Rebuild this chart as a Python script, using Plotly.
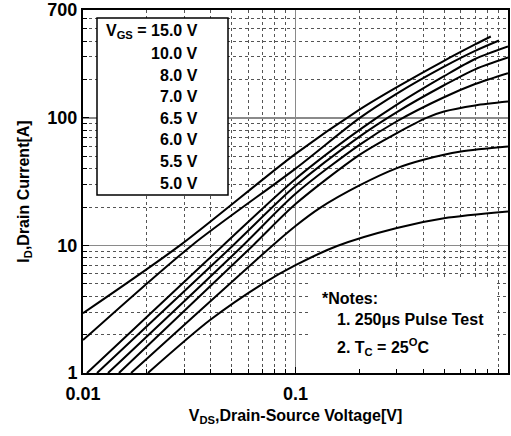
import plotly.graph_objects as go

# ---- data ----
vgs_labels = ["15.0 V", "10.0 V", "8.0 V", "7.0 V", "6.5 V", "6.0 V", "5.5 V", "5.0 V"]

v_15 = [0.01, 0.0286, 0.1, 0.2, 0.3, 0.5, 0.7, 0.83]
i_15 = [2.94, 10, 52.2, 116, 174, 280, 376, 434]

v_10 = [0.01, 0.0325, 0.1, 0.2, 0.3, 0.5, 0.7, 0.907]
i_10 = [1.81, 10, 40, 99.5, 155, 252, 335, 404]

v_8 = [0.01044, 0.0456, 0.1, 0.2, 0.3, 0.5, 0.7, 1.0]
i_8 = [1, 10, 33.2, 80.5, 127, 212, 289, 362]

v_7 = [0.01164, 0.0508, 0.1, 0.2, 0.3, 0.5, 0.7, 1.0]
i_7 = [1, 10, 29.3, 71.3, 111, 180, 240, 297]

v_65 = [0.01311, 0.0566, 0.1, 0.2, 0.3, 0.5, 0.7, 1.0]
i_65 = [1, 10, 25.4, 61.4, 94, 145, 184, 224]

v_6 = [0.01476, 0.0631, 0.1, 0.2, 0.3, 0.413, 0.5, 0.7, 1.0]
i_6 = [1, 10, 21.1, 51.3, 76, 100, 112, 125, 134]

v_55 = [0.01683, 0.078, 0.1, 0.13, 0.2, 0.3, 0.4, 0.6, 1.0]
i_55 = [1, 10, 14.2, 19.6, 29.5, 40.3, 46.9, 54.4, 59.6]

v_5 = [0.0202, 0.0396, 0.07, 0.1, 0.157, 0.3, 0.5, 1.0]
i_5 = [1, 2.6, 5.0, 7.0, 9.9, 13.7, 16.3, 18.4]

x_ticks = [0.01, 0.1, 1]
x_tick_text = ["0.01", "0.1", "1"]
y_ticks = [1, 10, 100, 700]
y_tick_text = ["1", "10", "100", "700"]
x_minor = [k * 0.01 for k in range(2, 10)] + [k * 0.1 for k in range(2, 10)]
y_minor = [k for k in range(2, 10)] + [k * 10 for k in range(2, 10)] + [k * 100 for k in range(2, 7)]

series = [(v_15, i_15), (v_10, i_10), (v_8, i_8), (v_7, i_7),
          (v_65, i_65), (v_6, i_6), (v_55, i_55), (v_5, i_5)]

FONT = "Liberation Sans, Arial, sans-serif"

# plot area in page pixels: x 83..508, y 10..373
L, R, T, B = 83, 3, 10, 63
W, H = 511, 436
PW, PH = W - L - R, H - T - B


def px_x(xp):
    return (xp - L) / PW


def px_y(yp):
    return (H - B - yp) / PH


fig = go.Figure()
for (vx, iy), lab in zip(series, vgs_labels):
    fig.add_trace(go.Scatter(x=vx, y=iy, mode="lines", name=lab,
                             line=dict(color="black", width=2, shape="spline", smoothing=0.8),
                             showlegend=False, hoverinfo="skip"))

axis_common = dict(
    type="log", showline=True, linecolor="black", linewidth=2, mirror=True,
    showgrid=True, gridcolor="#8a8a8a", gridwidth=1.5,
    ticks="inside", ticklen=6, tickcolor="black", tickwidth=1,
    tickfont=dict(family=FONT, size=18, color="black", weight="bold"),
    zeroline=False, automargin=False,
)

fig.update_xaxes(**axis_common, range=[-2, 0], tickmode="array",
                 tickvals=x_ticks, ticktext=x_tick_text, ticklabelstandoff=3,
                 minor=dict(tickmode="array", tickvals=x_minor, showgrid=True,
                            gridcolor="#555555", griddash="dot", gridwidth=1,
                            ticks="inside", ticklen=4, tickcolor="black"),
                 title=dict(text="V<sub>DS</sub>,Drain-Source Voltage[V]",
                            font=dict(family=FONT, size=16, color="black", weight="bold"),
                            standoff=7))
fig.update_yaxes(**axis_common, range=[0, 2.8451], tickmode="array",
                 tickvals=y_ticks, ticktext=y_tick_text,
                 minor=dict(tickmode="array", tickvals=y_minor, showgrid=True,
                            gridcolor="#555555", griddash="dot", gridwidth=1,
                            ticks="inside", ticklen=4, tickcolor="black"),
                 title=dict(text="I<sub>D</sub>,Drain Current[A]",
                            font=dict(family=FONT, size=16, color="black", weight="bold"),
                            standoff=14))

# legend box
fig.add_shape(type="rect", xref="paper", yref="paper", x0=px_x(97), x1=px_x(228),
              y0=px_y(195), y1=px_y(18),
              line=dict(color="black", width=1.5), fillcolor="white", layer="above")
# notes background
fig.add_shape(type="rect", xref="paper", yref="paper", x0=px_x(309), x1=px_x(496),
              y0=px_y(369), y1=px_y(278),
              line=dict(width=0), fillcolor="white", layer="above")

for k, lab in enumerate(vgs_labels):
    txt = ("V<sub>GS</sub> = " + lab) if k == 0 else lab
    ypx = 32 + k * 21.6
    fig.add_annotation(xref="paper", yref="paper", x=px_x(200), y=px_y(ypx),
                       xanchor="right", yanchor="middle", showarrow=False, text=txt,
                       font=dict(family=FONT, size=16, color="black", weight="bold"))

notes = [("*Notes:", 320, 298), ("1. 250\u03bcs Pulse Test", 335, 319),
         ("2. T<sub>C</sub> = 25<sup>O</sup>C", 335, 347)]
for txt, xpx, ypx in notes:
    fig.add_annotation(xref="paper", yref="paper", x=px_x(xpx), y=px_y(ypx),
                       xanchor="left", yanchor="middle", showarrow=False, text=txt,
                       font=dict(family=FONT, size=16, color="black", weight="bold"))

fig.update_layout(width=W, height=H, margin=dict(l=L, r=R, t=T, b=B, autoexpand=False),
                  plot_bgcolor="white", paper_bgcolor="white",
                  font=dict(family=FONT, color="black"))

fig.write_html("out.html", config={"displayModeBar": False, "staticPlot": True},
               post_script="document.body.style.margin='0px';")
